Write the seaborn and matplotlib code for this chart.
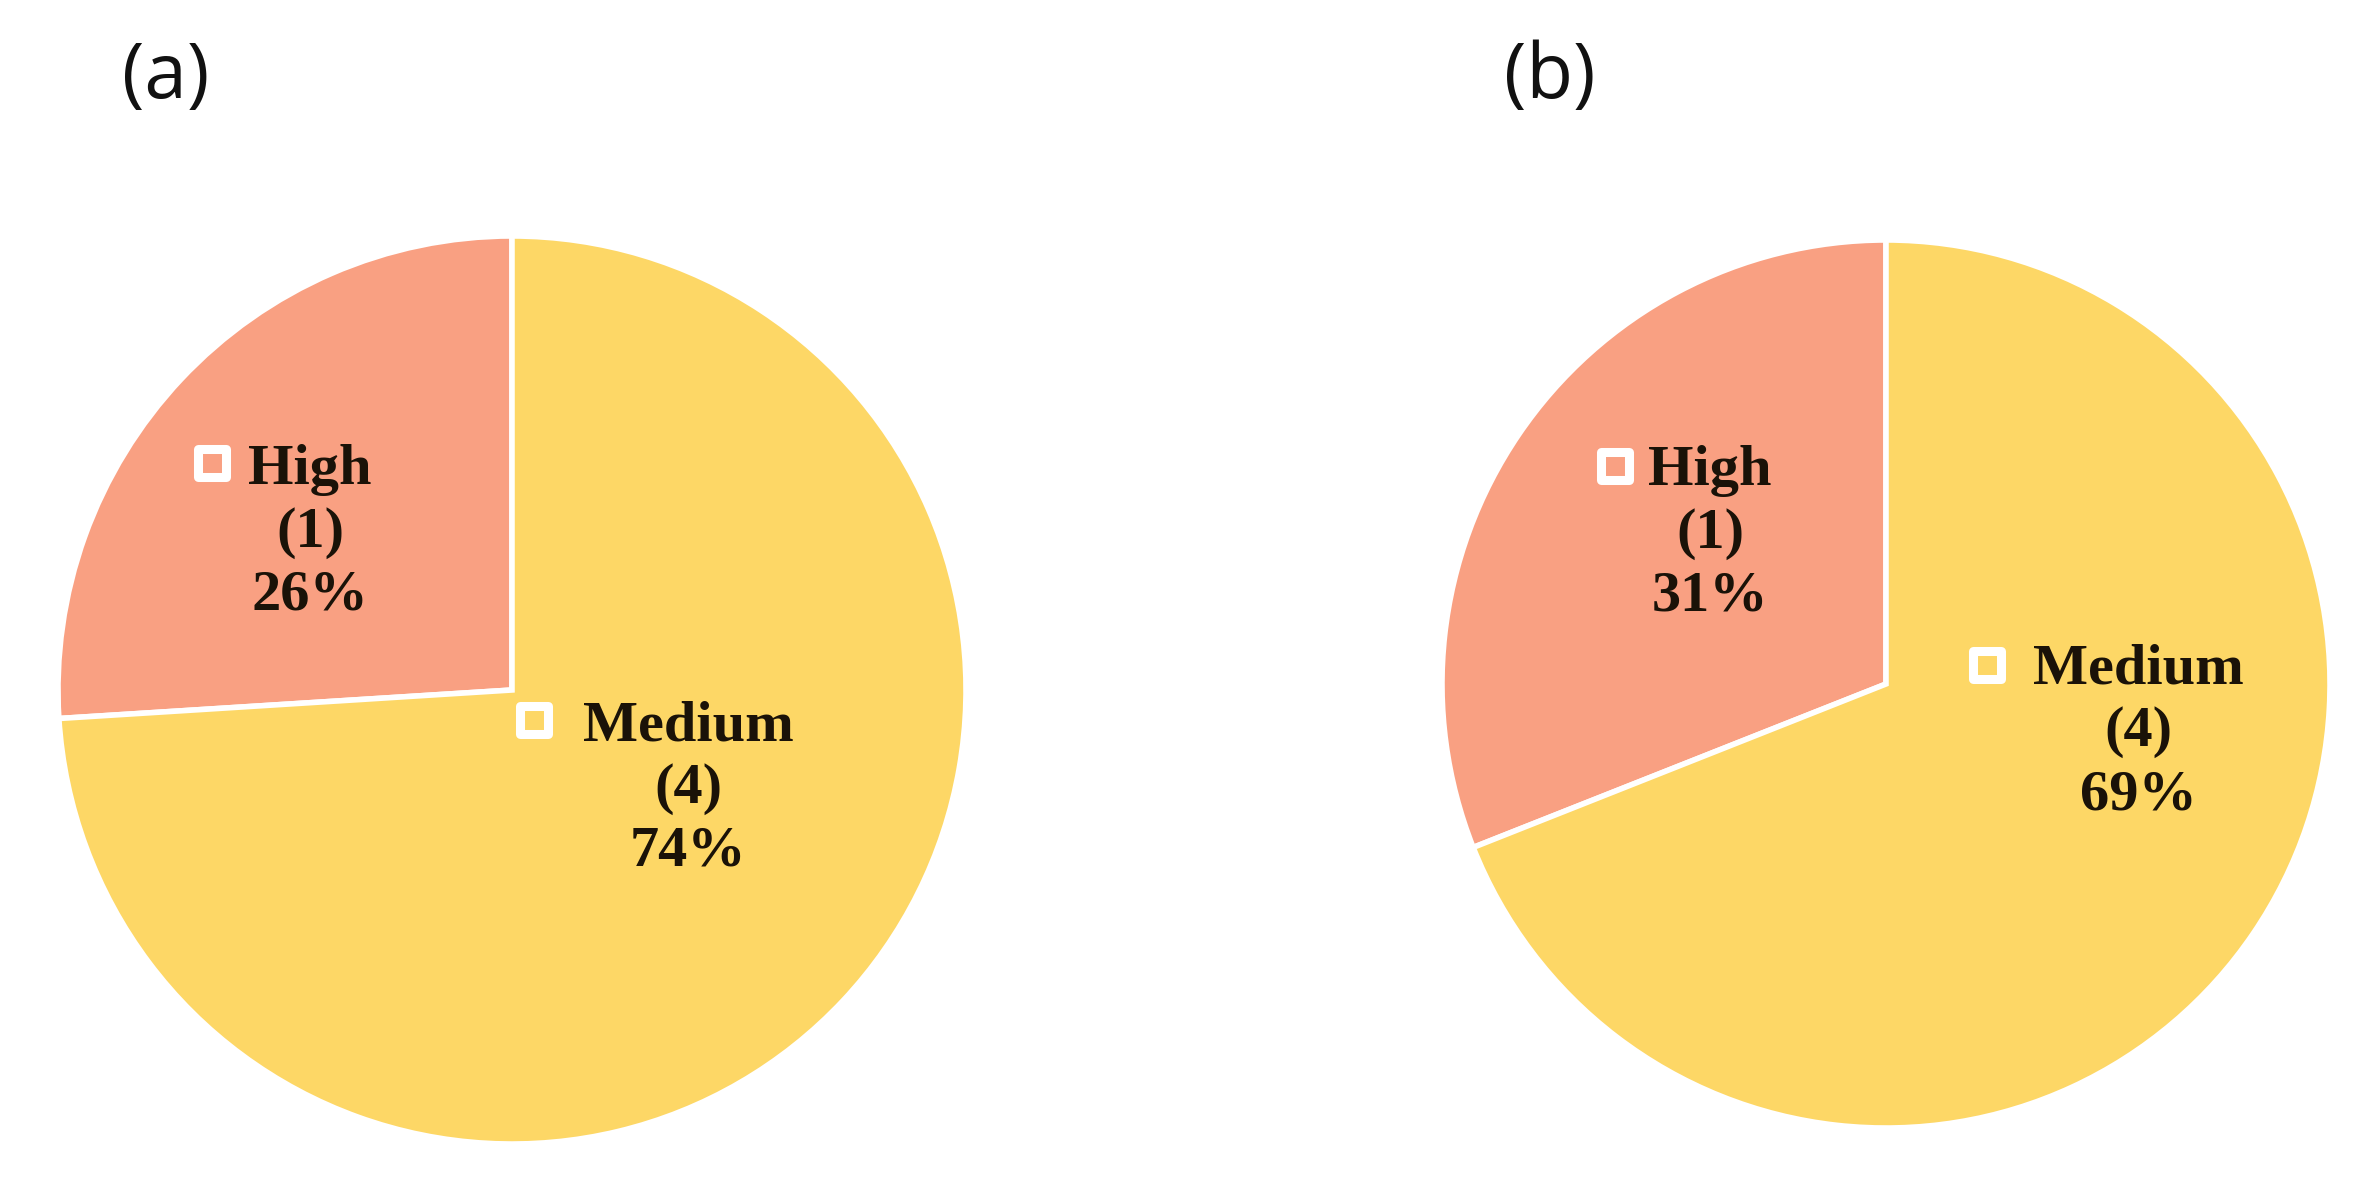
import matplotlib
matplotlib.use('Agg')
import matplotlib.pyplot as plt
import seaborn as sns

# data
panels = ['(a)', '(b)']
categories = ['High', 'Medium']
counts_a = [1, 4]
counts_b = [1, 4]
share_a = [26, 74]
share_b = [31, 69]

sns.set_theme(style='white')
plt.rcParams['font.family'] = ['Liberation Serif', 'DejaVu Serif']

colors = ['#F9A082', '#FDD766']
key_offset = {'High': -0.215, 'Medium': -0.34}
W, H = 2374, 1179

fig = plt.figure(figsize=(W / 100, H / 100), dpi=100)


def pie_axes(cx, cy, r, lim=1.1):
    # place an axes so that a unit pie lands at pixel centre (cx, cy) with radius r
    half = lim * r
    return fig.add_axes([(cx - half) / W, (H - cy - half) / H, 2 * half / W, 2 * half / H])


def draw_pie(ax, shares, counts, label_pos):
    wedges, _ = ax.pie(shares, colors=colors, startangle=90, counterclock=True,
                       radius=1.0, wedgeprops=dict(edgecolor='white', linewidth=4))
    ax.set_xlim(-1.1, 1.1)
    ax.set_ylim(-1.1, 1.1)
    for cat, n, s, (x, y), col in zip(categories, counts, shares, label_pos, colors):
        ax.text(x, y, f'{cat}\n({n})\n{s}%', ha='center', va='center',
                fontsize=42, fontweight='bold', color='#1a1208', linespacing=1.27)
        # legend key square in front of the category name
        ax.scatter([x + key_offset[cat]], [y + 0.152], marker='s', s=380,
                   facecolor=col, edgecolor='white', linewidths=6.5, zorder=5)


ax_a = pie_axes(512, 690, 454)
draw_pie(ax_a, share_a, counts_a, [(-0.445, 0.347), (0.388, -0.218)])

ax_b = pie_axes(1886, 684, 444)
draw_pie(ax_b, share_b, counts_b, [(-0.396, 0.338), (0.568, -0.109)])

for label, x in zip(panels, [166, 1550]):
    fig.text(x / W, 1 - 78 / H, label, ha='center', va='center', fontsize=55,
             family=['Open Sans', 'DejaVu Sans'], color='#111111')

fig.savefig('out.png', dpi=100, facecolor='white')
